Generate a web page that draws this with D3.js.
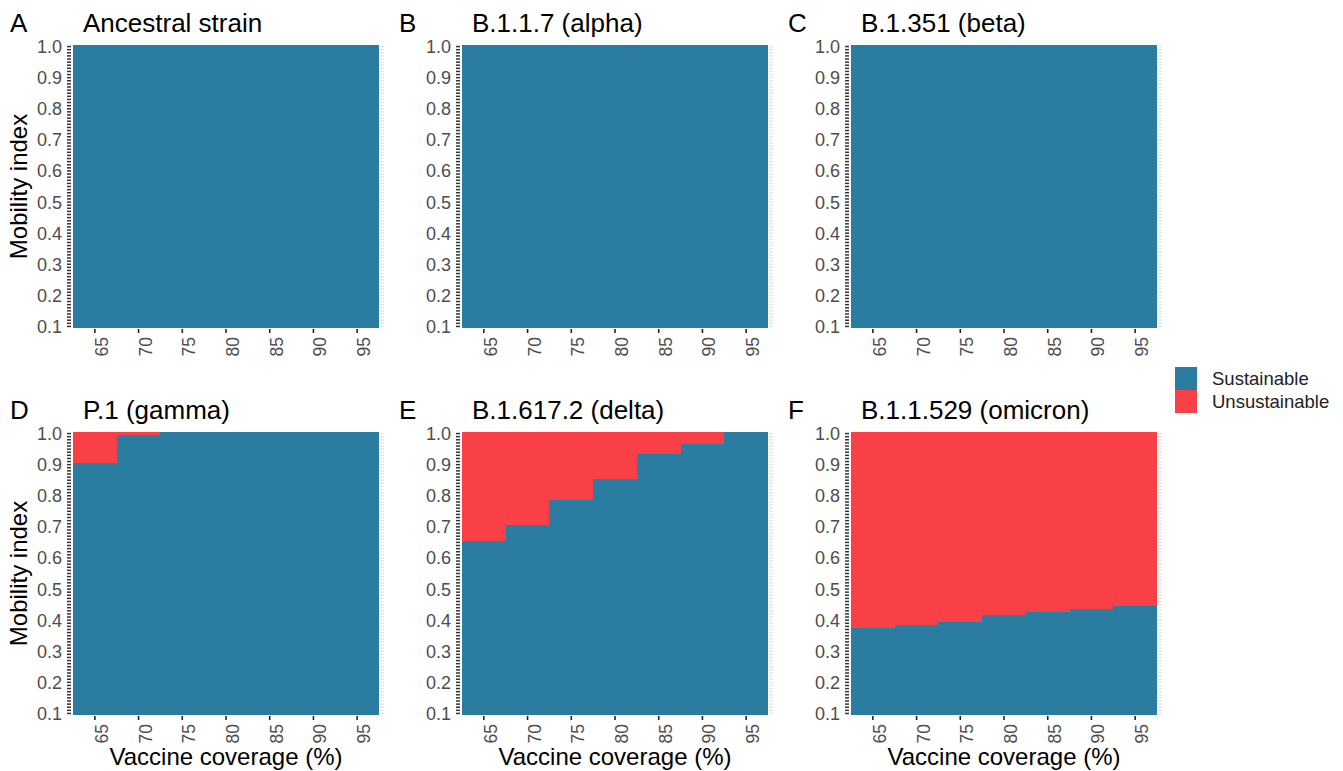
<!DOCTYPE html>
<html>
<head>
<meta charset="utf-8">
<script src="https://cdn.jsdelivr.net/npm/d3@7"></script>
<style>
	body { margin: 0; background: #fff; }
	text { font-family: "Liberation Sans", Arial, sans-serif; }
</style>
</head>
<body>
<div id="viz"></div>
<script>

// panel names
var variants = ["Ancestral strain", "B.1.1.7 (alpha)", "B.1.351 (beta)", "P.1 (gamma)", "B.1.617.2 (delta)", "B.1.1.529 (omicron)"];
var letters = ["A", "B", "C", "D", "E", "F"];

// x categories
var coverage = [65, 70, 75, 80, 85, 90, 95];

// highest mobility index that is still sustainable, one per coverage value
var ancestral = [1.00, 1.00, 1.00, 1.00, 1.00, 1.00, 1.00];
var alpha     = [1.00, 1.00, 1.00, 1.00, 1.00, 1.00, 1.00];
var beta      = [1.00, 1.00, 1.00, 1.00, 1.00, 1.00, 1.00];
var gamma     = [0.90, 0.99, 1.00, 1.00, 1.00, 1.00, 1.00];
var delta     = [0.65, 0.70, 0.78, 0.85, 0.93, 0.96, 1.00];
var omicron   = [0.37, 0.38, 0.39, 0.41, 0.42, 0.43, 0.44];

var thresholds = [ancestral, alpha, beta, gamma, delta, omicron];

// mobility grid (0.10 .. 1.00 by 0.01) and labelled ticks
var mobility = d3.range(10, 101).map(d => d / 100);
var mobilityLabels = ["0.1", "0.2", "0.3", "0.4", "0.5", "0.6", "0.7", "0.8", "0.9", "1.0"];

var legendKeys = ["Sustainable", "Unsustainable"];
var colors = {"Sustainable": "#2a7da1", "Unsustainable": "#f94047"};

var width = 1343, height = 771;
var pw = 306, ph = 283;
var lefts = [73, 462, 851];
var tops = [45, 432];

var svg = d3.select("#viz")
	.append("svg")
	.attr("width", width)
	.attr("height", height);

var x = d3.scaleBand()
	.domain(coverage)
	.range([0, pw])
	.padding(0);

var y = d3.scaleLinear()
	.domain([0.095, 1.005])
	.range([ph, 0]);

variants.forEach((name, i) => {

	var col = i % 3, row = Math.floor(i / 3);
	var g = svg.append("g")
		.attr("transform", "translate(" + lefts[col] + "," + tops[row] + ")");

	var cells = [];
	coverage.forEach((c, j) => {
		mobility.forEach(m => {
			cells.push({c: c, m: m, s: m <= thresholds[i][j] + 1e-9 ? "Sustainable" : "Unsustainable"});
		});
	});

	g.selectAll("rect.cell")
		.data(cells)
		.enter()
		.append("rect")
		.attr("class", "cell")
		.attr("x", d => x(d.c))
		.attr("width", x.bandwidth())
		.attr("y", d => y(d.m + 0.005))
		.attr("height", d => y(d.m - 0.005) - y(d.m + 0.005))
		.attr("fill", d => colors[d.s])
		.attr("shape-rendering", "crispEdges");

	// left ticks, one per mobility level
	g.selectAll("line.ytick")
		.data(mobility)
		.enter()
		.append("line")
		.attr("x1", -6).attr("x2", -2)
		.attr("y1", d => y(d)).attr("y2", d => y(d))
		.attr("stroke", "#333")
		.attr("stroke-width", 1.5);

	// faint ticks on the right edge
	g.selectAll("line.rtick")
		.data(mobility)
		.enter()
		.append("line")
		.attr("x1", pw + 1).attr("x2", pw + 5)
		.attr("y1", d => y(d)).attr("y2", d => y(d))
		.attr("stroke", "#e6e6e6")
		.attr("stroke-width", 1.5);

	g.selectAll("text.ylab")
		.data(mobilityLabels)
		.enter()
		.append("text")
		.attr("x", -11)
		.attr("y", d => y(+d))
		.attr("dy", "0.36em")
		.attr("text-anchor", "end")
		.attr("fill", "#4d4d4d")
		.style("font-size", "18px")
		.text(d => d);

	// x ticks and rotated labels
	g.selectAll("line.xtick")
		.data(coverage)
		.enter()
		.append("line")
		.attr("x1", d => x(d) + x.bandwidth() / 2)
		.attr("x2", d => x(d) + x.bandwidth() / 2)
		.attr("y1", ph + 1).attr("y2", ph + 5)
		.attr("stroke", "#222")
		.attr("stroke-width", 1.6);

	g.selectAll("text.xlab")
		.data(coverage)
		.enter()
		.append("text")
		.attr("transform", d => "translate(" + (x(d) + x.bandwidth() / 2 + 13) + "," + (ph + 9) + ") rotate(-90)")
		.attr("text-anchor", "end")
		.attr("fill", "#4d4d4d")
		.style("font-size", "17.5px")
		.text(d => d);

	// titles
	g.append("text")
		.attr("x", -63)
		.attr("y", -13)
		.style("font-size", "26px")
		.text(letters[i]);

	g.append("text")
		.attr("x", 10)
		.attr("y", -13)
		.style("font-size", "26px")
		.text(name);

	if (col == 0) {
		g.append("text")
			.attr("transform", "translate(-46," + (ph / 2) + ") rotate(-90)")
			.attr("text-anchor", "middle")
			.style("font-size", "24px")
			.text("Mobility index");
	}

	if (row == 1) {
		g.append("text")
			.attr("x", pw / 2)
			.attr("y", ph + 50)
			.attr("text-anchor", "middle")
			.style("font-size", "24px")
			.text("Vaccine coverage (%)");
	}
});

// legend
var legend = svg.append("g")
	.attr("transform", "translate(1175,367)");

legend.selectAll("rect")
	.data(legendKeys)
	.enter()
	.append("rect")
	.attr("x", 0)
	.attr("y", (d, i) => i * 23)
	.attr("width", 22)
	.attr("height", 23)
	.attr("fill", d => colors[d]);

legend.selectAll("text")
	.data(legendKeys)
	.enter()
	.append("text")
	.attr("x", 37)
	.attr("y", (d, i) => i * 23 + 11.5)
	.attr("dy", "0.36em")
	.style("font-size", "18.5px")
	.attr("fill", "#222")
	.text(d => d);

</script>
</body>
</html>
